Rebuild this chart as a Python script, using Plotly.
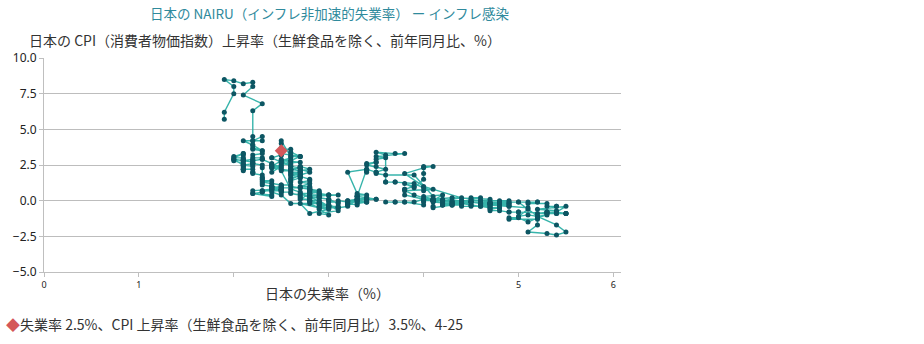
import plotly.graph_objects as go

# Japan monthly data, 1980-01 .. 2025-04
# unemployment rate (%) per year
unemp = [
    [1.9,1.9,2.0,2.0,1.9,2.0,2.1,2.2,2.2,2.1,2.3,2.2],  # 1980
    [2.2,2.2,2.3,2.3,2.2,2.1,2.2,2.2,2.3,2.2,2.2,2.3],  # 1981
    [2.3,2.2,2.2,2.3,2.3,2.4,2.4,2.4,2.5,2.4,2.4,2.5],  # 1982
    [2.6,2.6,2.7,2.7,2.6,2.6,2.7,2.7,2.7,2.6,2.6,2.6],  # 1983
    [2.7,2.8,2.7,2.7,2.8,2.7,2.7,2.7,2.7,2.7,2.6,2.7],  # 1984
    [2.7,2.6,2.7,2.6,2.6,2.6,2.7,2.7,2.6,2.7,2.8,2.8],  # 1985
    [2.7,2.8,2.7,2.8,2.8,2.9,2.9,2.8,2.8,2.9,2.9,2.9],  # 1986
    [3.0,2.9,3.0,3.0,3.1,3.0,2.9,2.9,2.8,2.8,2.7,2.7],  # 1987
    [2.7,2.6,2.6,2.5,2.5,2.5,2.5,2.5,2.5,2.5,2.4,2.4],  # 1988
    [2.4,2.3,2.3,2.3,2.3,2.2,2.2,2.2,2.2,2.3,2.2,2.2],  # 1989
    [2.1,2.1,2.0,2.1,2.2,2.1,2.1,2.0,2.0,2.0,2.1,2.1],  # 1990
    [2.1,2.0,2.1,2.1,2.1,2.1,2.1,2.2,2.2,2.1,2.1,2.1],  # 1991
    [2.1,2.1,2.1,2.1,2.1,2.2,2.2,2.2,2.2,2.3,2.3,2.3],  # 1992
    [2.3,2.3,2.4,2.3,2.4,2.5,2.5,2.5,2.6,2.6,2.7,2.8],  # 1993
    [2.8,2.8,2.9,2.8,2.8,2.9,2.9,3.0,3.0,3.0,2.9,2.9],  # 1994
    [2.9,3.0,3.0,3.0,3.1,3.1,3.2,3.2,3.2,3.2,3.3,3.3],  # 1995
    [3.4,3.3,3.2,3.4,3.5,3.5,3.4,3.3,3.4,3.3,3.3,3.3],  # 1996
    [3.3,3.4,3.3,3.2,3.4,3.4,3.4,3.4,3.4,3.5,3.5,3.5],  # 1997
    [3.5,3.6,3.9,4.1,4.1,4.2,4.1,4.3,4.3,4.3,4.4,4.4],  # 1998
    [4.4,4.6,4.8,4.8,4.6,4.9,4.8,4.7,4.6,4.6,4.5,4.7],  # 1999
    [4.7,4.9,4.9,4.8,4.6,4.7,4.7,4.6,4.7,4.7,4.8,4.8],  # 2000
    [4.8,4.7,4.7,4.8,4.9,4.9,5.0,5.0,5.3,5.4,5.5,5.5],  # 2001
    [5.3,5.3,5.2,5.3,5.4,5.5,5.4,5.4,5.4,5.5,5.3,5.4],  # 2002
    [5.5,5.2,5.4,5.4,5.4,5.3,5.3,5.1,5.1,5.2,5.2,4.9],  # 2003
    [5.0,4.8,4.7,4.7,4.6,4.6,4.9,4.8,4.6,4.7,4.5,4.4],  # 2004
    [4.5,4.6,4.5,4.4,4.4,4.2,4.4,4.3,4.2,4.5,4.6,4.4],  # 2005
    [4.4,4.1,4.1,4.1,4.0,4.2,4.1,4.1,4.2,4.1,4.0,4.1],  # 2006
    [4.0,4.0,4.0,3.8,3.8,3.7,3.6,3.7,3.9,4.0,3.8,3.8],  # 2007
    [3.8,3.9,3.8,3.9,4.0,4.0,4.0,4.1,4.0,3.8,4.0,4.4],  # 2008
    [4.2,4.4,4.8,5.0,5.2,5.4,5.5,5.4,5.3,5.1,5.2,5.2],  # 2009
    [4.9,4.9,5.0,5.1,5.2,5.3,5.2,5.1,5.0,5.1,5.1,4.9],  # 2010
    [4.9,4.7,4.6,4.7,4.6,4.6,4.7,4.3,4.1,4.5,4.5,4.5],  # 2011
    [4.5,4.5,4.5,4.6,4.4,4.3,4.3,4.2,4.2,4.2,4.1,4.3],  # 2012
    [4.2,4.3,4.1,4.1,4.1,3.9,3.8,4.1,4.0,4.0,3.9,3.7],  # 2013
    [3.7,3.6,3.6,3.6,3.5,3.7,3.8,3.5,3.6,3.5,3.5,3.4],  # 2014
    [3.6,3.5,3.4,3.3,3.3,3.4,3.3,3.4,3.4,3.2,3.3,3.3],  # 2015
    [3.2,3.3,3.2,3.2,3.2,3.1,3.0,3.1,3.0,3.0,3.1,3.1],  # 2016
    [3.0,2.9,2.8,2.8,3.1,2.8,2.8,2.8,2.8,2.8,2.7,2.8],  # 2017
    [2.4,2.5,2.5,2.5,2.3,2.5,2.5,2.4,2.4,2.4,2.5,2.4],  # 2018
    [2.5,2.3,2.5,2.4,2.4,2.3,2.3,2.2,2.4,2.4,2.2,2.2],  # 2019
    [2.4,2.4,2.5,2.6,2.9,2.8,2.9,3.0,3.0,3.1,2.9,3.0],  # 2020
    [2.9,2.9,2.7,2.8,3.0,2.9,2.8,2.8,2.8,2.7,2.8,2.7],  # 2021
    [2.8,2.7,2.6,2.5,2.6,2.6,2.6,2.5,2.6,2.6,2.5,2.5],  # 2022
    [2.5,2.6,2.7,2.6,2.6,2.5,2.7,2.7,2.6,2.5,2.5,2.4],  # 2023
    [2.4,2.6,2.6,2.6,2.6,2.5,2.7,2.5,2.4,2.5,2.5,2.4],  # 2024
    [2.5,2.4,2.5,2.5],                                  # 2025
]
# CPI ex fresh food, y/y (%) per year
cpi = [
    [5.7,6.2,7.5,8.0,8.5,8.4,8.2,8.3,8.0,7.4,6.8,6.3],  # 1980
    [4.5,4.2,4.5,4.2,4.2,4.2,3.9,3.6,3.5,3.7,3.9,3.5],  # 1981
    [3.3,3.2,3.0,3.0,2.9,2.6,2.5,2.4,2.4,2.5,2.3,2.2],  # 1982
    [2.1,2.0,2.0,1.8,1.6,1.8,1.7,1.6,1.6,1.4,1.3,1.5],  # 1983
    [1.8,2.0,2.2,2.1,2.2,2.4,2.3,2.3,2.4,2.3,2.4,2.3],  # 1984
    [2.3,2.2,2.1,2.2,2.1,1.9,2.0,1.9,1.8,1.7,1.5,1.4],  # 1985
    [1.3,1.2,1.0,1.0,0.8,0.5,0.4,0.3,0.2,0.0,-0.1,-0.2],  # 1986
    [-0.3,-0.4,-0.5,-0.4,-0.5,-0.3,-0.3,-0.2,-0.1,0.0,0.2,0.3],  # 1987
    [0.4,0.5,0.6,0.6,0.7,0.6,0.7,0.7,0.8,0.9,0.8,1.0],  # 1988
    [1.0,1.1,1.2,2.3,2.5,2.6,2.5,2.6,2.8,2.9,2.8,2.9],  # 1989
    [2.8,2.8,2.9,2.5,2.4,2.5,2.6,2.8,2.9,3.1,3.3,3.2],  # 1990
    [3.3,3.0,3.0,2.9,2.9,2.8,2.8,2.7,2.6,2.5,2.5,2.4],  # 1991
    [2.3,2.2,2.1,2.2,2.2,2.2,2.0,2.0,1.9,1.8,1.6,1.6],  # 1992
    [1.5,1.4,1.4,1.3,1.2,1.1,1.0,1.1,1.1,1.0,0.9,0.9],  # 1993
    [0.8,0.8,0.7,0.6,0.5,0.6,0.5,0.4,0.4,0.4,0.3,0.3],  # 1994
    [0.2,0.1,0.0,-0.1,-0.1,0.0,-0.1,-0.1,-0.2,-0.2,-0.3,-0.2],  # 1995
    [-0.1,-0.1,0.0,0.1,0.1,0.1,0.2,0.1,0.2,0.3,0.3,0.3],  # 1996
    [0.4,0.4,0.5,2.0,2.2,2.1,2.0,2.1,2.6,2.7,2.4,2.0],  # 1997
    [1.9,1.8,1.8,0.3,0.1,0.1,0.0,-0.1,-0.1,0.0,-0.1,-0.2],  # 1998
    [-0.2,-0.1,-0.1,0.0,0.0,0.0,-0.1,-0.2,-0.1,-0.2,-0.1,-0.1],  # 1999
    [-0.2,-0.2,-0.2,-0.3,-0.3,-0.3,-0.4,-0.4,-0.5,-0.5,-0.5,-0.5],  # 2000
    [-0.5,-0.6,-0.7,-0.7,-0.8,-0.8,-0.8,-0.8,-0.9,-0.9,-0.9,-0.9],  # 2001
    [-0.8,-0.8,-0.9,-0.9,-0.9,-0.9,-0.8,-0.8,-0.8,-0.9,-0.8,-0.8],  # 2002
    [-0.4,-0.6,-0.7,-0.4,-0.4,-0.4,-0.2,-0.2,-0.1,-0.1,-0.1,-0.1],  # 2003
    [-0.1,-0.1,-0.2,-0.2,-0.3,-0.3,-0.3,-0.3,-0.3,-0.2,-0.1,-0.2],  # 2004
    [-0.3,-0.4,-0.4,-0.4,-0.2,-0.3,-0.3,-0.3,-0.2,0.0,0.0,0.0],  # 2005
    [0.0,0.0,0.0,0.1,0.3,0.4,0.0,0.0,0.0,0.1,0.1,0.0],  # 2006
    [0.0,-0.1,-0.3,-0.1,-0.1,-0.1,-0.1,-0.1,-0.1,0.1,0.4,0.8],  # 2007
    [0.8,1.0,1.2,0.9,1.5,1.9,2.4,2.4,2.3,1.9,1.0,0.2],  # 2008
    [0.0,-0.1,-0.1,-0.1,-1.1,-1.7,-2.2,-2.4,-2.3,-2.2,-1.7,-1.3],  # 2009
    [-1.3,-1.2,-1.2,-1.5,-1.2,-1.0,-1.1,-1.0,-1.1,-0.6,-0.5,-0.4],  # 2010
    [-0.4,-0.3,-0.1,-0.1,-0.3,-0.2,0.1,0.2,0.1,-0.1,-0.3,-0.1],  # 2011
    [-0.1,0.1,0.2,0.2,-0.1,-0.2,-0.3,-0.3,-0.1,0.0,-0.1,-0.2],  # 2012
    [-0.3,-0.3,-0.5,-0.4,0.0,0.4,0.7,0.8,0.7,0.9,1.2,1.3],  # 2013
    [1.3,1.3,1.3,3.2,3.4,3.3,3.3,3.1,3.0,2.9,2.7,2.5],  # 2014
    [2.2,2.0,2.2,0.3,0.1,0.1,0.0,-0.1,-0.1,-0.1,0.1,0.1],  # 2015
    [0.0,0.0,-0.3,-0.3,-0.4,-0.5,-0.5,-0.5,-0.5,-0.4,-0.4,-0.2],  # 2016
    [0.1,0.2,0.2,0.3,0.4,0.4,0.5,0.7,0.7,0.8,0.9,0.9],  # 2017
    [0.9,1.0,0.9,0.7,0.7,0.8,0.8,0.9,1.0,1.0,0.9,0.7],  # 2018
    [0.8,0.7,0.8,0.9,0.8,0.6,0.6,0.5,0.3,0.4,0.5,0.7],  # 2019
    [0.8,0.6,0.4,-0.2,-0.2,0.0,0.0,-0.4,-0.3,-0.7,-0.9,-1.0],  # 2020
    [-0.6,-0.5,-0.2,-0.9,-0.6,-0.5,-0.2,0.0,0.1,0.1,0.5,0.5],  # 2021
    [0.2,0.6,0.8,2.1,2.1,2.2,2.4,2.8,3.0,3.6,3.7,4.0],  # 2022
    [4.2,3.1,3.1,3.4,3.2,3.3,3.1,3.1,2.8,2.9,2.5,2.3],  # 2023
    [2.0,2.8,2.6,2.2,2.5,2.6,2.7,2.8,2.4,2.3,2.7,3.0],  # 2024
    [3.2,3.0,3.2,3.5],                                  # 2025
]
latest_u, latest_c, latest_label = 2.5, 3.5, "4-25"

x_tick_vals = [0, 1, 2, 3, 4, 5, 6]
x_tick_text = ["0", "1", "", "", "", "5", "6"]
y_tick_vals = [-5, -2.5, 0, 2.5, 5, 7.5, 10]

xs = [v for row in unemp for v in row]
ys = [v for row in cpi for v in row]

fig = go.Figure()
fig.add_trace(go.Scatter(
    x=xs, y=ys, mode="lines+markers",
    line=dict(color="rgba(33,172,162,0.9)", width=1.4),
    marker=dict(color="#0d5663", size=5),
    hoverinfo="skip", showlegend=False))
fig.add_trace(go.Scatter(
    x=[latest_u], y=[latest_c], mode="markers",
    marker=dict(color="#d4575a", size=10, symbol="diamond"),
    showlegend=False))

cjk = "Noto Sans CJK JP"
fig.update_layout(
    width=924, height=344,
    margin=dict(l=44, r=303, t=58, b=72),
    paper_bgcolor="white", plot_bgcolor="white",
    title=dict(text="日本の NAIRU（インフレ非加速的失業率） ー インフレ感染",
               x=150/924, y=1-14/344, xanchor="left", yanchor="middle",
               font=dict(family=cjk, size=13.5, color="#2f8a9c")),
    xaxis=dict(range=[0, 6.08], tickvals=x_tick_vals, ticktext=x_tick_text,
               showgrid=False, zeroline=False, showline=True,
               linecolor="#bfbfbf", linewidth=1,
               ticks="outside", ticklen=4, tickcolor="#bfbfbf",
               tickfont=dict(family="Noto Sans", size=9, color="#222")),
    yaxis=dict(range=[-5, 10], tickvals=y_tick_vals, tickformat=".1f",
               showgrid=True, gridcolor="#bdbdbd", gridwidth=1,
               zeroline=False, showline=True, linecolor="#bfbfbf",
               ticks="outside", ticklen=4, tickcolor="#bfbfbf",
               tickfont=dict(family="Noto Sans", size=12, color="#222")),
    annotations=[
        dict(text="日本の CPI（消費者物価指数）上昇率（生鮮食品を除く、前年同月比、%）",
             xref="paper", yref="paper", x=(27-44)/577, y=1+(58-40)/214,
             xanchor="left", yanchor="middle", showarrow=False,
             font=dict(family=cjk, size=14, color="#333")),
        dict(text="日本の失業率（%）",
             xref="paper", yref="paper", x=(327-44)/577, y=-(293-272)/214,
             xanchor="center", yanchor="middle", showarrow=False,
             font=dict(family=cjk, size=14, color="#333")),
        dict(text=f"<span style='color:#d4575a'>◆</span>失業率 {latest_u}%、CPI 上昇率（生鮮食品を除く、前年同月比）{latest_c}%、{latest_label}",
             xref="paper", yref="paper", x=(4-44)/577, y=-(324-272)/214,
             xanchor="left", yanchor="middle", showarrow=False,
             font=dict(family=cjk, size=14, color="#333")),
    ],
)
fig.write_html("out.html")
